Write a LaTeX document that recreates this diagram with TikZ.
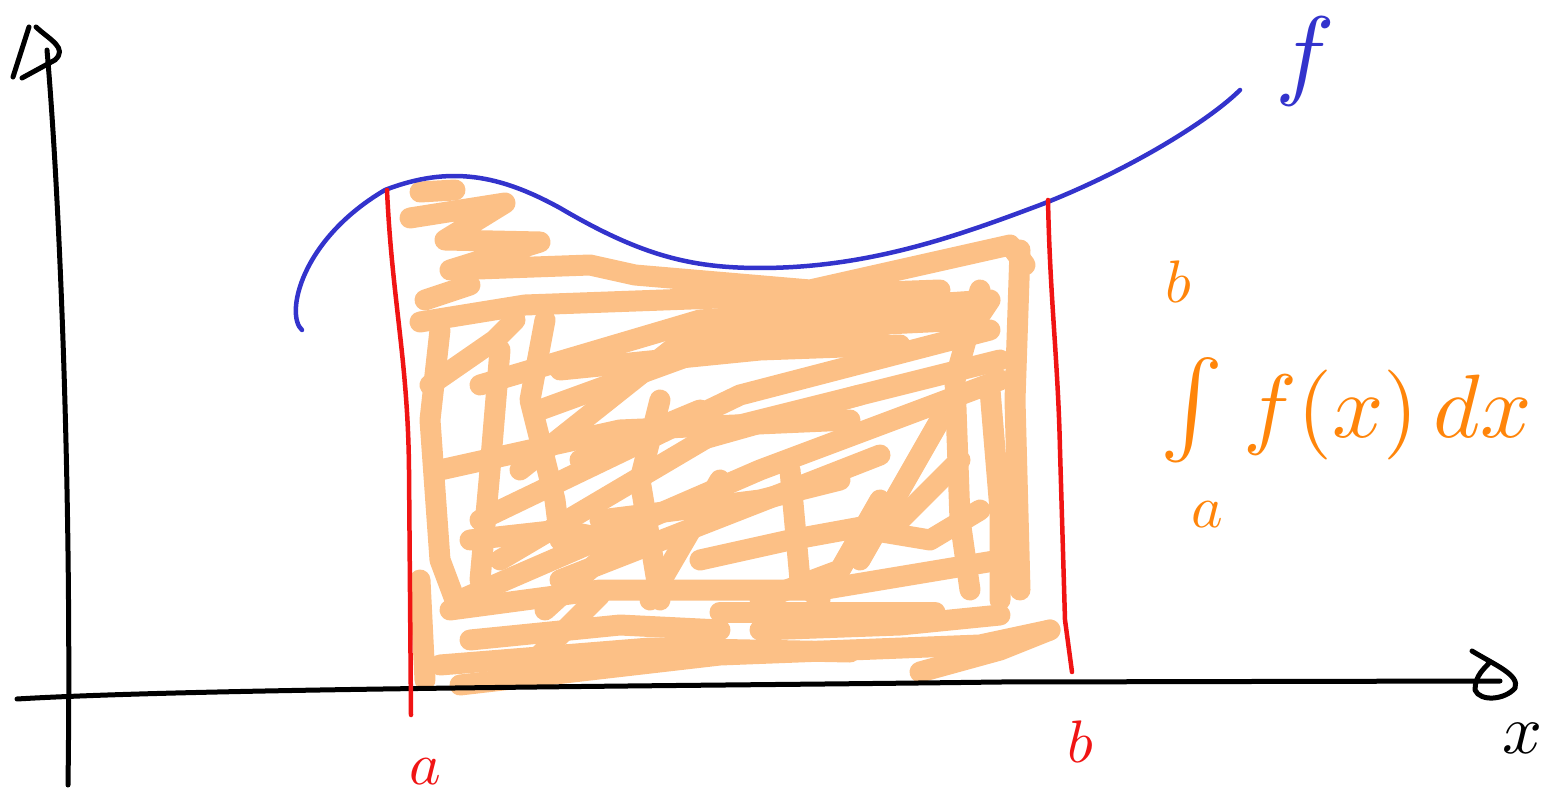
\documentclass[tikz,border=0pt]{standalone}
\usepackage{graphicx}
\definecolor{scrib}{RGB}{252,192,134}
\definecolor{inkorange}{RGB}{255,133,10}
\definecolor{inkblue}{RGB}{51,51,204}
\definecolor{inkred}{RGB}{240,20,20}
\tikzset{
  axisline/.style={line width=5pt,black,line cap=round,line join=round},
  curveline/.style={line width=4.5pt,inkblue,line cap=round},
  boundline/.style={line width=4.5pt,inkred,line cap=round},
  scribble/.style={line width=21pt,scrib,line cap=round,line join=round},
  lbl/.style={inner sep=0pt,anchor=center},
}
\begin{document}
\begin{tikzpicture}[x=1pt,y=-1pt]
\useasboundingbox (0,0) rectangle (1542,799);
% scribbled area
\draw[scribble] (410,218) -- (505,203) -- (445,240) -- (540,242) -- (450,270) -- (590,265) -- (635,275) -- (810,290) -- (1010,245) -- (1025,265);
\draw[scribble] (420,192) -- (455,190);
\draw[scribble] (420,322) -- (525,305) -- (940,290);
\draw[scribble] (425,300) -- (470,285);
\draw[scribble] (430,385) -- (495,340) -- (515,320);
\draw[scribble] (480,385) -- (700,320) -- (990,300) -- (970,330);
\draw[scribble] (520,470) -- (690,335) -- (885,325);
\draw[scribble] (540,410) -- (760,330) -- (970,320);
\draw[scribble] (480,520) -- (740,395) -- (990,330);
\draw[scribble] (500,560) -- (720,430) -- (880,390) -- (1000,360);
\draw[scribble] (440,470) -- (620,430) -- (850,420);
\draw[scribble] (460,600) -- (760,470) -- (1000,380);
\draw[scribble] (560,580) -- (880,455);
\draw[scribble] (440,330) -- (430,420) -- (440,560) -- (455,600);
\draw[scribble] (545,320) -- (530,400) -- (555,500) -- (560,540);
\draw[scribble] (500,350) -- (490,470) -- (480,580);
\draw[scribble] (660,400) -- (640,480) -- (660,600);
\draw[scribble] (980,290) -- (955,380) -- (960,520) -- (970,590);
\draw[scribble] (1020,250) -- (1015,400) -- (1020,590);
\draw[scribble] (990,390) -- (1000,510) -- (1000,600);
\draw[scribble] (450,610) -- (600,590) -- (820,590) -- (1000,560);
\draw[scribble] (720,612) -- (935,612);
\draw[scribble] (440,665) -- (650,648) -- (850,652);
\draw[scribble] (460,685) -- (720,655) -- (980,645) -- (1050,630);
\draw[scribble] (420,580) -- (425,680);
\draw[scribble] (600,595) -- (530,665);
\draw[scribble] (720,480) -- (650,600);
\draw[scribble] (790,470) -- (800,580) -- (820,600);
\draw[scribble] (880,500) -- (840,570) -- (760,600);
\draw[scribble] (940,420) -- (900,490) -- (860,560);
\draw[scribble] (960,460) -- (900,520) -- (790,540) -- (700,560);
\draw[scribble] (920,672) -- (1000,650) -- (1050,630);
\draw[scribble] (600,520) -- (760,500) -- (840,480);
\draw[scribble] (470,540) -- (560,530) -- (640,545);
\draw[scribble] (560,370) -- (760,350) -- (900,345);
\draw[scribble] (700,440) -- (860,395);
\draw[scribble] (580,460) -- (700,410);
\draw[scribble] (470,640) -- (620,625) -- (720,630);
\draw[scribble] (760,630) -- (900,625) -- (1000,615);
\draw[scribble] (870,530) -- (930,540) -- (980,510);
\draw[scribble] (545,610) -- (600,560) -- (640,520);
% axes
\draw[axisline] (68,785) .. controls (72,500) and (60,200) .. (47,50);
\draw[axisline] (13,77) -- (29,27);
\draw[axisline] (36,27) .. controls (50,40) and (68,48) .. (55,60) -- (22,78);
\draw[axisline] (17,699) .. controls (200,688) and (700,686) .. (1000,682) -- (1500,681);
\draw[axisline] (1472,651) .. controls (1495,665) and (1520,675) .. (1515,688) .. controls (1505,700) and (1480,702) .. (1475,690) .. controls (1475,675) and (1485,668) .. (1490,662);
% function curve
\draw[curveline] (302,330) .. controls (285,315) and (300,240) .. (385,190) .. controls (450,165) and (500,175) .. (560,208) .. controls (640,255) and (690,268) .. (760,268) .. controls (870,268) and (960,235) .. (1040,205) .. controls (1130,170) and (1210,120) .. (1240,90);
% bounds
\draw[boundline] (387,190) .. controls (392,300) and (408,360) .. (409,470) -- (411,715);
\draw[boundline] (1048,200) .. controls (1050,300) and (1058,360) .. (1060,450) -- (1065,620) -- (1072,672);
% labels
\node[lbl,text=inkblue] (flabel) at (1305,62) {\scalebox{10}{$f$}};
\node[lbl,text=black] (xlabel) at (1522,738) {\scalebox{7}{$x$}};
\node[lbl,text=inkred] (alabel) at (425,772) {\scalebox{6}{$a$}};
\node[lbl,text=inkred] (blabel) at (1080,742) {\scalebox{6}{$b$}};
\node[lbl,text=inkorange] (intsign) at (1192,410) {\scalebox{9.5}{$\int$}};
\node[lbl,text=inkorange] (upper) at (1178,282) {\scalebox{6}{$b$}};
\node[lbl,text=inkorange] (lower) at (1207,515) {\scalebox{6}{$a$}};
\node[lbl,text=inkorange] (integrand) at (1388,415) {\scalebox{9}{$f(x)\,dx$}};
\end{tikzpicture}
\end{document}
